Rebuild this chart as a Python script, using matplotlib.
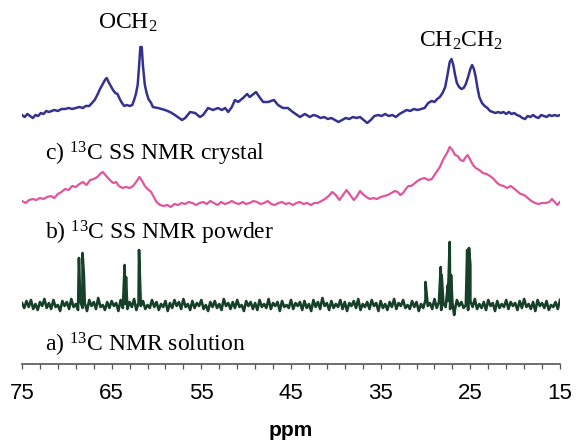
import matplotlib
matplotlib.use("Agg")
import matplotlib.pyplot as plt
import numpy as np

plt.rcParams["mathtext.fontset"] = "custom"
plt.rcParams["mathtext.rm"] = "Liberation Serif"
plt.rcParams["mathtext.it"] = "Liberation Serif:italic"

# c) crystal spectrum (blue): chemical shift (ppm) and intensity
crystal_ppm = [75.0, 74.7, 74.4, 74.1, 73.8, 73.5, 73.2, 72.9, 72.6, 72.3,
               72.0, 71.7, 71.4, 71.0, 70.6, 70.2, 69.8, 69.4, 69.0, 68.6,
               68.2, 67.9, 67.5, 67.2, 66.9, 66.6, 66.3, 66.0, 65.75, 65.55,
               65.35, 65.1, 64.85, 64.6, 64.35, 64.1, 63.85, 63.6, 63.3, 63.0,
               62.7, 62.5, 62.3, 62.1, 61.95, 61.8, 61.65, 61.5, 61.3, 61.1,
               60.9, 60.6, 60.4, 59.85, 59.05, 58.5, 57.95, 57.15, 56.8, 56.25,
               55.7, 55.15, 54.8, 54.25, 53.7, 53.15, 52.7, 52.35, 52.0, 51.6,
               51.25, 50.9, 50.35, 49.9, 49.6, 48.9, 48.45, 48.1, 47.55, 46.9,
               46.45, 45.9, 45.35, 44.8, 44.0, 43.45, 42.9, 42.5, 42.1, 41.7,
               41.3, 40.9, 40.5, 40.1, 39.7, 39.3, 38.9, 38.5, 38.1, 37.7,
               37.3, 36.9, 36.5, 36.1, 35.7, 35.3, 34.9, 34.5, 34.1, 33.7,
               33.3, 32.9, 32.5, 32.1, 31.7, 31.3, 30.9, 30.5, 30.1, 29.7,
               29.3, 29.0, 28.7, 28.4, 28.1, 27.8, 27.55, 27.3, 27.1, 26.9,
               26.7, 26.5, 26.25, 26.0, 25.75, 25.5, 25.25, 25.0, 24.8, 24.6,
               24.4, 24.2, 24.0, 23.7, 23.4, 23.1, 22.8, 22.5, 22.2, 21.9,
               21.6, 21.3, 21.0, 20.7, 20.4, 20.1, 19.8, 19.5, 19.2, 18.9,
               18.6, 18.3, 18.0, 17.7, 17.4, 17.1, 16.8, 16.5, 16.2, 15.9,
               15.6, 15.3, 15.0]
crystal_int = [0, -2, 1, -1, -3, 0, -1, 2, 1, 4,
               3, 4, 5, 4, 6, 6, 7, 6, 7, 8,
               7, 9, 9, 12, 15, 20, 26, 31, 35, 37,
               33, 29, 25, 22, 21, 16, 12, 9, 10, 9,
               10, 15, 21, 30, 48, 68, 68, 48, 30, 22,
               16, 12, 8, 7, 5, 3, 0, -5, -3, 3,
               2, -2, 0, 7, 5, 7, 5, 7, 3, 8,
               15, 13, 17, 21, 18, 23, 17, 13, 13, 15,
               10, 7, 7, 3, -2, 1, -2, 0, -1, -3,
               -2, -4, -3, -5, -7, -5, -3, -4, -2, -3,
               -2, -5, -8, -5, -1, 0, -1, 1, -1, 0,
               -2, 1, 3, 5, 4, 6, 5, 6, 7, 12,
               14, 13, 16, 18, 22, 28, 40, 53, 56, 50,
               40, 32, 28, 26, 27, 31, 38, 46, 50, 46,
               38, 27, 18, 12, 9, 7, 4, 3, 2, 3,
               2, 3, 1, 3, 1, 2, 0, -1, -3, -4,
               -1, -2, 0, -2, -3, 0, -1, -2, 0, -1,
               0, -1, 0]

# b) powder spectrum (pink)
powder_ppm = [75.0, 74.6, 74.2, 73.8, 73.4, 73.0, 72.6, 72.2, 71.8, 71.4, 71.0, 70.6, 70.2,
              69.8, 69.4, 69.0, 68.6, 68.2, 67.8, 67.4, 67.0, 66.6, 66.3, 66.0, 65.7, 65.4,
              65.1, 64.8, 64.5, 64.2, 63.8, 63.4, 63.0, 62.6, 62.2, 61.9, 61.6, 61.3, 61.0,
              60.6, 60.3, 60.0, 59.6, 59.2, 58.8, 58.4, 58.0, 57.6, 57.2, 56.8, 56.4, 56.0,
              55.6, 55.2, 54.8, 54.4, 54.0, 53.6, 53.2, 52.8, 52.4, 52.0, 51.6, 51.2, 50.8,
              50.4, 50.0, 49.6, 49.2, 48.8, 48.4, 48.0, 47.6, 47.2, 46.8, 46.4, 46.0, 45.6,
              45.2, 44.8, 44.4, 44.0, 43.6, 43.2, 42.8, 42.4, 42.0, 41.6, 41.2, 40.8, 40.4,
              40.0, 39.6, 39.2, 38.8, 38.4, 38.0, 37.7, 37.3, 37.0, 36.6, 36.2, 35.8, 35.4,
              35.0, 34.6, 34.2, 33.8, 33.4, 33.1, 32.8, 32.5, 32.2, 31.9, 31.6, 31.3, 30.9,
              30.5, 30.1, 29.7, 29.3, 29.0, 28.7, 28.4, 28.0, 27.6, 27.3, 27.0, 26.7, 26.4,
              26.1, 25.8, 25.5, 25.3, 25.0, 24.7, 24.4, 24.0, 23.6, 23.2, 22.8, 22.4, 22.0,
              21.7, 21.3, 20.9, 20.5, 20.2, 19.8, 19.4, 19.0, 18.6, 18.2, 17.8, 17.4, 17.0,
              16.6, 16.2, 15.9, 15.6, 15.3, 15.0]
powder_int = [2, 0, 3, 4, 3, 5, 4, 6, 7, 5, 9, 11, 14,
              13, 17, 16, 19, 21, 18, 23, 24, 26, 29, 31, 28, 25,
              22, 20, 21, 17, 15, 16, 15, 17, 22, 26, 22, 17, 14,
              11, 6, 1, -2, -3, -2, -4, -1, -2, 0, -1, 1, 0,
              -2, 0, 1, -1, 2, 0, -2, 1, -1, 0, 2, 0, -1,
              1, -1, 0, 2, 1, -1, 0, 2, -1, -2, 0, 1, -1,
              0, -2, 0, 1, -1, 0, -2, 0, 0, 2, 4, 7, 11,
              8, 3, 8, 13, 8, 3, 6, 12, 9, 6, 4, 5, 4,
              6, 7, 8, 10, 12, 11, 8, 10, 14, 17, 17, 19, 22,
              24, 25, 23, 24, 28, 32, 36, 44, 50, 56, 53, 48, 47,
              43, 42, 46, 48, 43, 38, 35, 33, 30, 29, 27, 24, 20,
              18, 17, 15, 17, 15, 12, 9, 8, 5, 2, 0, -1, 0,
              0, 1, 4, 1, -2, 1]

# a) solution spectrum (dark green): baseline noise every 0.25 ppm from 75 to 15
solution_noise = [2, -3, 4, -2, 5, -4, 1, -5, 3, -1, 6, -3, 2, -4, 5, -2, 0, -6, 4, -1,
                  3, -4, 6, -2, 1, -5, 4, -3, 2, -6, 5, -1, 3, -4, 7, -2, 0, -5, 3, -3,
                  4, -1, 2, -6, 5, -3, 1, -4, 3, -2, 6, -5, 2, -1, 4, -4, 0, -3, 5, -2,
                  3, -5, 1, -2, 4, -6, 2, -3, 5, -1, 3, -4, 6, -2, 1, -5, 4, -3, 2, -1,
                  5, -4, 0, -6, 3, -2, 4, -3, 1, -5, 6, -1, 2, -4, 3, -3, 5, -2, 0, -6,
                  4, -1, 3, -4, 2, -5, 5, -2, 1, -3, 6, -4, 2, -1, 3, -6, 4, -2, 0, -3,
                  5, -4, 2, -1, 3, -5, 4, -3, 1, -6, 5, -2, 3, -4, 7, -1, 2, -5, 4, -3,
                  1, -2, 5, -4, 3, -6, 2, -1, 4, -3, 6, -5, 1, -2, 3, -4, 5, -1, 2, -6,
                  4, -3, 1, -5, 3, -2, 6, -4, 2, -1, 5, -3, 0, -4, 4, -2, 3, -6, 1, -3,
                  5, -1, 2, -4, 6, -3, 3, -5, 1, -2, 4, -4, 2, -6, 5, -1, 3, -3, 0, -5,
                  4, -2, 6, -4, 1, -3, 3, -5, 5, -1, 2, -6, 4, -3, 1, -2, 5, -4, 3, -1,
                  2, -5, 4, -3, 6, -2, 1, -4, 3, -6, 5, -1, 2, -3, 4, -5, 0, -2, 3, -4, 5]
# sharp solution lines (ppm, intensity)
solution_peak_ppm = [68.65, 68.25, 68.1, 63.55, 63.4, 61.95, 30.0, 28.3, 28.2, 27.5, 27.3,
                     27.15, 26.8, 25.35, 25.15, 25.0]
solution_peak_int = [47, 52, 30, 40, 28, 55, 23, 38, 30, 20, 63, 30, -10, 55, 57, 40]

tick_labels = ["75", "65", "55", "45", "35", "25", "15"]


def build_solution():
    grid = np.arange(75.0, 14.99, -0.25)
    ppm = np.concatenate([grid, solution_peak_ppm])
    val = np.concatenate([solution_noise, solution_peak_int])
    order = np.argsort(-ppm)
    return ppm[order], val[order]


def create_nmr_figure(path):
    fig = plt.figure(figsize=(5.76, 4.41), dpi=100)
    ax = fig.add_axes([22 / 576, 77 / 441, 538 / 576, 364 / 441])

    # vertical offsets of the stacked traces
    offsets = {"crystal": 249, "powder": 161, "solution": 59}

    sol_ppm, sol_int = build_solution()
    ax.plot(sol_ppm, sol_int + offsets["solution"], color="#17402a", lw=1.9)
    ax.plot(powder_ppm, np.array(powder_int) + offsets["powder"], color="#e0559e", lw=1.6)
    ax.plot(crystal_ppm, np.array(crystal_int) + offsets["crystal"], color="#34328f", lw=1.8)

    serif = "Liberation Serif"
    ax.text(72.4, 210, "c) $^{13}$C SS NMR crystal", family=serif, fontsize=17, va="center")
    ax.text(72.4, 131, "b) $^{13}$C SS NMR powder", family=serif, fontsize=17, va="center")
    ax.text(72.4, 19, "a) $^{13}$C NMR solution", family=serif, fontsize=17, va="center")
    ax.text(63.2, 341, "OCH$_2$", family=serif, fontsize=17, ha="center", va="center")
    ax.text(26.0, 323, "CH$_2$CH$_2$", family=serif, fontsize=17, ha="center", va="center")

    ax.set_xlim(75, 15)
    ax.set_ylim(0, 364)
    ax.set_xticks([75, 65, 55, 45, 35, 25, 15])
    ax.set_xticklabels(tick_labels, family="Liberation Sans", fontsize=16)
    ax.set_xticks(np.arange(75, 14, -2), minor=True)
    ax.tick_params(axis="x", which="both", direction="out", length=3.5, width=0.9,
                   color="#555555", pad=10.5)
    ax.set_yticks([])
    ax.set_xlabel("ppm", family="Liberation Sans", fontsize=15, fontweight="bold", labelpad=12)

    for side in ["top", "right", "left"]:
        ax.spines[side].set_visible(False)
    ax.spines["bottom"].set_color("#555555")
    ax.spines["bottom"].set_linewidth(1.2)
    ax.patch.set_visible(False)

    fig.savefig(path, dpi=100)


create_nmr_figure("out.png")
